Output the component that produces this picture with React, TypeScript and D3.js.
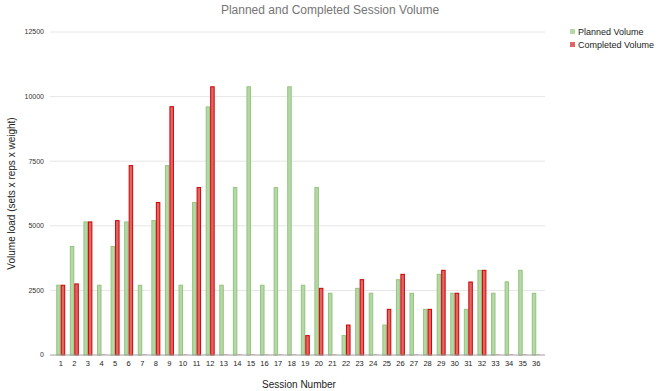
import React from "react";
import * as d3 from "d3";

const sessions: string[] = Array.from({ length: 36 }, (_, i) => String(i + 1));
const planned: number[] = [
  2700, 4200, 5150, 2700, 4200, 5150, 2700, 5200, 7330, 2700,
  5900, 9600, 2700, 6480, 10380, 2700, 6480, 10380, 2700, 6480,
  2390, 750, 2580, 2390, 1160, 2915, 2390, 1767, 3122, 2390,
  1767, 3277, 2390, 2830, 3277, 2390,
];
const completed: number[] = [
  2700, 2750, 5150, 0, 5200, 7330, 0, 5900, 9610, 0,
  6480, 10380, 0, 0, 0, 0, 0, 0, 750, 2580,
  0, 1160, 2915, 0, 1767, 3122, 0, 1767, 3277, 2390,
  2825, 3277, 0, 0, 0, 0,
];
const seriesNames: string[] = ["Planned Volume", "Completed Volume"];
const yTicks: number[] = [0, 2500, 5000, 7500, 10000, 12500];
const title = "Planned and Completed Session Volume";
const xTitle = "Session Number";
const yTitle = "Volume load (sets x reps x weight)";

const W = 661;
const H = 391;
const FONT = "Arial, 'Liberation Sans', Helvetica, sans-serif";
const fills = ["#b6d7a8", "#e06666"];
const strokes = ["#93c47d", "#cc0000"];

export default function App() {
  const x = d3.scaleBand<string>().domain(sessions).range([50, 547]).paddingInner(0.34).paddingOuter(0.46);
  const xs = d3.scaleBand<string>().domain(seriesNames).range([0, x.bandwidth()]).padding(0);
  const y = d3.scaleLinear().domain([0, 12500]).range([355, 32]);
  const data = [planned, completed];

  return (
    <svg width={W} height={H} style={{ position: "absolute", left: 0, top: 0, background: "#fff" }} fontFamily={FONT}>
      <rect x={0} y={0} width={W} height={H} fill="#fff" />
      <text x={330} y={14} textAnchor="middle" fontSize={12} fill="#757575">{title}</text>
      {yTicks.map((t) => (
        <g key={t}>
          {t !== 0 && <line x1={50} x2={545} y1={y(t)} y2={y(t)} stroke="#e6e6e6" strokeWidth={1} />}
          <text x={44} y={y(t)} dy="0.35em" textAnchor="end" fontSize={7} fill="#333">{t}</text>
        </g>
      ))}
      {sessions.map((s, i) => (
        <g key={s}>
          {data.map((vals, k) => {
            const v = vals[i];
            const bx = (x(s) as number) + (xs(seriesNames[k]) as number);
            const bw = xs.bandwidth();
            if (v <= 0) {
              return <rect key={k} x={bx + 0.5} y={y(0) - 1} width={bw - 1} height={1} fill="#f2b8b5" />;
            }
            return (
              <rect key={k} x={bx + 0.5} y={y(v)} width={bw - 1} height={y(0) - y(v)}
                fill={fills[k]} stroke={strokes[k]} strokeWidth={1} />
            );
          })}
          <text x={(x(s) as number) + x.bandwidth() / 2} y={366} textAnchor="middle" fontSize={7.5} fill="#222">{s}</text>
        </g>
      ))}
      <line x1={50} x2={545} y1={y(0)} y2={y(0)} stroke="#9e9e9e" strokeWidth={1} />
      <text x={299} y={388} textAnchor="middle" fontSize={10} fill="#222">{xTitle}</text>
      <text transform={`translate(15,${(32 + 355) / 2}) rotate(-90)`} textAnchor="middle" fontSize={10} fill="#222">{yTitle}</text>
      {seriesNames.map((n, k) => (
        <g key={n}>
          <rect x={570} y={29 + k * 13} width={5} height={5} fill={fills[k]} />
          <text x={578} y={32 + k * 13} dy="0.35em" fontSize={9} fill="#222">{n}</text>
        </g>
      ))}
    </svg>
  );
}
